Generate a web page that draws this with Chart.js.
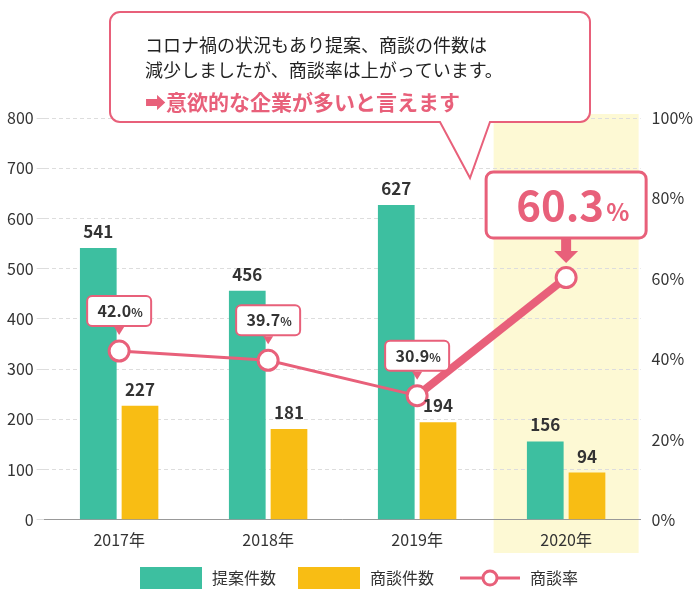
<!DOCTYPE html>
<html><head><meta charset="utf-8">
<script src="https://cdn.jsdelivr.net/npm/chart.js@4"></script>
<style>body{margin:0;background:#fff}</style>
</head><body>
<canvas id="c" width="700" height="591"></canvas>
<script>
const years = ["2017年", "2018年", "2019年", "2020年"];
const proposals = [541, 456, 627, 156];
const meetings = [227, 181, 194, 94];
const rate = [42.0, 39.7, 30.9, 60.3];

const FONT = '"Noto Sans CJK JP", "Noto Sans", sans-serif';
const PINK = "#e8607a";
const GREEN = "#3dbfa0";
const YELLOW = "#f8bd14";

function roundRect(ctx, x, y, w, h, r) {
  ctx.beginPath();
  ctx.moveTo(x + r, y);
  ctx.arcTo(x + w, y, x + w, y + h, r);
  ctx.arcTo(x + w, y + h, x, y + h, r);
  ctx.arcTo(x, y + h, x, y, r);
  ctx.arcTo(x, y, x + w, y, r);
  ctx.closePath();
}

const decor = {
  id: "decor",
  beforeDraw(chart) {
    const { ctx, chartArea, scales } = chart;
    const x = scales.x;
    const step = x.getPixelForValue(1) - x.getPixelForValue(0);
    const cx = x.getPixelForValue(3);
    ctx.save();
    ctx.fillStyle = "#fdf9d4";
    ctx.fillRect(cx - step / 2 + 2, chartArea.top - 4, step - 4, 557 - chartArea.top);
    ctx.restore();
  },
  afterDatasetsDraw(chart) {
    const { ctx } = chart;
    ctx.save();
    // bar value labels
    ctx.fillStyle = "#333";
    ctx.font = "bold 17px " + FONT;
    ctx.textAlign = "center";
    [0, 1].forEach((d) => {
      chart.getDatasetMeta(d).data.forEach((b, i) => {
        const v = chart.data.datasets[d].data[i];
        ctx.fillText(v, b.x, b.y - 10);
      });
    });
    // small percentage callouts
    const pts = chart.getDatasetMeta(2).data;
    ctx.lineWidth = 2;
    for (let i = 0; i < 3; i++) {
      const p = pts[i];
      const bx = p.x, by = p.y - 40;
      roundRect(ctx, bx - 32, by - 15, 64, 30, 5);
      ctx.fillStyle = "#fff"; ctx.fill();
      ctx.strokeStyle = PINK; ctx.stroke();
      ctx.fillStyle = PINK;
      ctx.beginPath();
      ctx.moveTo(bx - 5, by + 16); ctx.lineTo(bx + 5, by + 16); ctx.lineTo(bx, by + 24);
      ctx.closePath(); ctx.fill();
      ctx.fillStyle = "#333";
      ctx.textAlign = "right";
      ctx.font = "bold 16px " + FONT;
      ctx.fillText(rate[i].toFixed(1), bx + 12, by + 6);
      ctx.textAlign = "left";
      ctx.font = "bold 12px " + FONT;
      ctx.fillText("%", bx + 12, by + 6);
    }
    // big 2020 callout
    const p = pts[3];
    const bx = p.x, by = 205;
    roundRect(ctx, bx - 80, by - 33, 160, 66, 7);
    ctx.fillStyle = "#fff"; ctx.fill();
    ctx.lineWidth = 3; ctx.strokeStyle = PINK; ctx.stroke();
    ctx.fillStyle = PINK;
    ctx.fillRect(bx - 5, by + 34, 10, 14);
    ctx.beginPath();
    ctx.moveTo(bx - 12, by + 46); ctx.lineTo(bx + 12, by + 46); ctx.lineTo(bx, by + 58);
    ctx.closePath(); ctx.fill();
    ctx.textAlign = "right";
    ctx.font = "bold 42px " + FONT;
    ctx.fillText("60.3", bx + 38, by + 16);
    ctx.textAlign = "left";
    ctx.font = "bold 24px " + FONT;
    ctx.fillText("%", bx + 40, by + 16);

    // speech bubble
    ctx.beginPath();
    const L = 110, T = 12, R = 590, B = 122, r = 10;
    ctx.moveTo(L + r, T);
    ctx.arcTo(R, T, R, B, r);
    ctx.arcTo(R, B, L, B, r);
    ctx.lineTo(490, B);
    ctx.lineTo(470, 178);
    ctx.lineTo(440, B);
    ctx.arcTo(L, B, L, T, r);
    ctx.arcTo(L, T, R, T, r);
    ctx.closePath();
    ctx.fillStyle = "#fff"; ctx.fill();
    ctx.lineWidth = 2; ctx.strokeStyle = PINK; ctx.stroke();
    ctx.fillStyle = "#222";
    ctx.font = "18px " + FONT;
    ctx.textAlign = "left";
    ctx.fillText("コロナ禍の状況もあり提案、商談の件数は", 145, 52);
    ctx.fillText("減少しましたが、商談率は上がっています。", 145, 77);
    ctx.fillStyle = PINK;
    ctx.font = "bold 21px " + FONT;
    ctx.fillText("➡意欲的な企業が多いと言えます", 145, 110);

    // legend
    const ly = 578;
    ctx.font = "16px " + FONT;
    ctx.fillStyle = GREEN; ctx.fillRect(140, ly - 11, 62, 22);
    ctx.fillStyle = "#333"; ctx.fillText("提案件数", 212, ly + 6);
    ctx.fillStyle = YELLOW; ctx.fillRect(298, ly - 11, 62, 22);
    ctx.fillStyle = "#333"; ctx.fillText("商談件数", 370, ly + 6);
    ctx.strokeStyle = PINK; ctx.lineWidth = 3;
    ctx.beginPath(); ctx.moveTo(460, ly); ctx.lineTo(520, ly); ctx.stroke();
    ctx.beginPath(); ctx.arc(490, ly, 7, 0, Math.PI * 2);
    ctx.fillStyle = "#fff"; ctx.fill(); ctx.stroke();
    ctx.fillStyle = "#333"; ctx.fillText("商談率", 530, ly + 6);
    ctx.restore();
  },
};

new Chart(document.getElementById("c"), {
  data: {
    labels: years,
    datasets: [
      { type: "bar", label: "提案件数", data: proposals, backgroundColor: GREEN,
        yAxisID: "y", barPercentage: 0.88, categoryPercentage: 0.56, order: 2 },
      { type: "bar", label: "商談件数", data: meetings, backgroundColor: YELLOW,
        yAxisID: "y", barPercentage: 0.88, categoryPercentage: 0.56, order: 2 },
      { type: "line", label: "商談率", data: rate, yAxisID: "y1", order: 1,
        borderColor: PINK, borderWidth: 3, pointRadius: 10, pointBorderWidth: 3,
        pointBackgroundColor: "#fff", pointBorderColor: PINK,
        segment: { borderWidth: (c) => (c.p0DataIndex === 2 ? 8 : 3) } },
    ],
  },
  options: {
    responsive: false,
    animation: false,
    layout: { padding: { top: 118, bottom: 38, left: 4, right: 4 } },
    plugins: { legend: { display: false }, tooltip: { enabled: false } },
    scales: {
      x: {
        grid: { display: false },
        border: { color: "#999" },
        ticks: { color: "#333", font: { size: 16, family: FONT } },
      },
      y: {
        min: 0, max: 800,
        ticks: { stepSize: 100, color: "#333", font: { size: 16, family: FONT } },
        grid: { color: "#ddd" },
        border: { display: false, dash: [4, 3] },
      },
      y1: {
        position: "right", min: 0, max: 100,
        ticks: { stepSize: 20, callback: (v) => v + "%", color: "#333", font: { size: 16, family: FONT } },
        grid: { display: false },
        border: { display: false },
      },
    },
  },
  plugins: [decor],
});
</script>
</body></html>
